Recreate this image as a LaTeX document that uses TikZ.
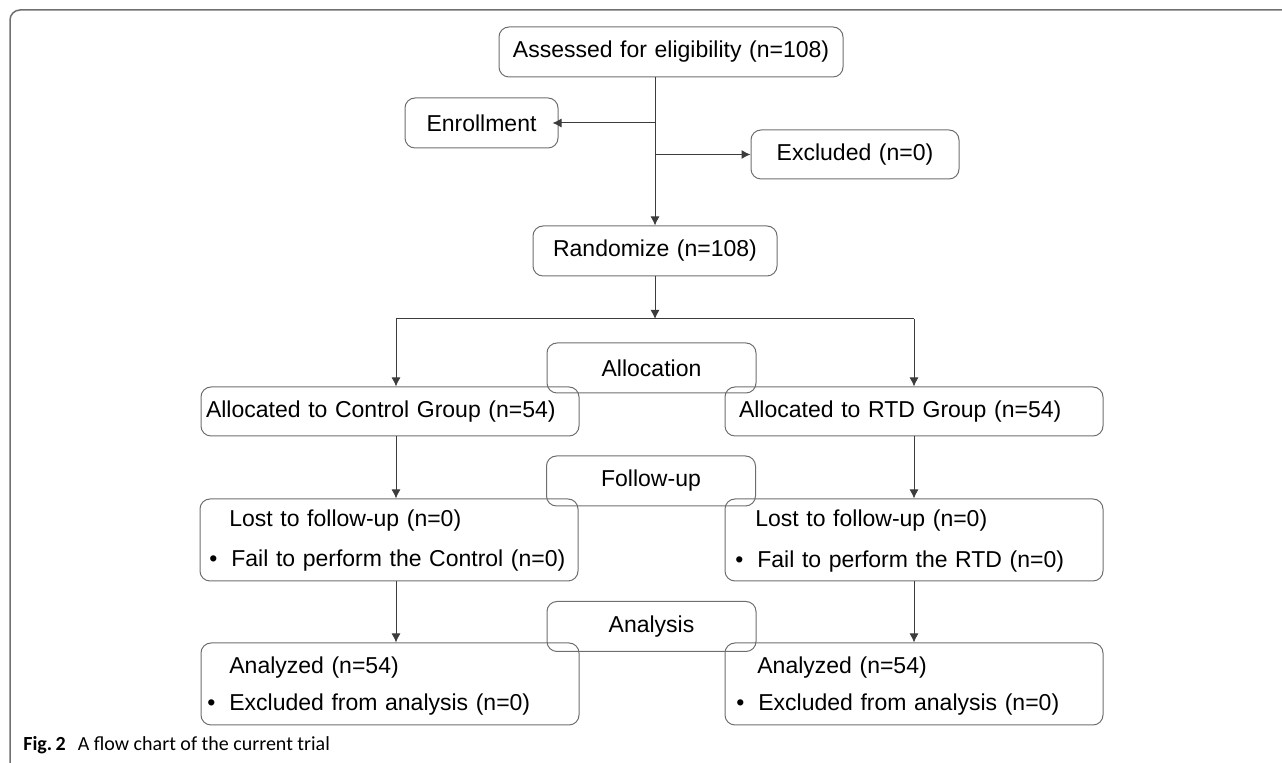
\documentclass[tikz,border=0pt]{standalone}
\usepackage{fontspec}
\setmainfont{Liberation Sans}
\newfontfamily\capfont{Carlito}
\usetikzlibrary{arrows.meta}

\definecolor{boxgray}{HTML}{6E6E6E}
\definecolor{linegray}{HTML}{3C3C3C}
\definecolor{framegray}{HTML}{707070}

\newcommand{\boxfont}{\fontsize{11.5}{14}\selectfont\spaceskip=0.33em\relax}

\begin{document}
\begin{tikzpicture}[x=0.5pt, y=-0.5pt,
    box/.style={draw=boxgray, rounded corners=5pt, line width=0.5pt, inner sep=0pt, font=\boxfont},
    stage/.style={box, minimum width=104.5pt, minimum height=25pt},
    group/.style={box, minimum width=189pt, minimum height=24.5pt, text width=189pt, align=left},
    detail/.style={box, minimum width=189pt, minimum height=41pt},
    txt/.style={inner sep=0pt, anchor=west, font=\boxfont},
    arr/.style={draw=linegray, line width=0.5pt, -{Latex[length=4.5pt,width=4.5pt]}}]

    \useasboundingbox (0,0) rectangle (1282,763);

    %frame
    \draw[framegray, line width=0.75pt, rounded corners=5pt] (10,780) -- (10,10) -- (1300,10);

    %boxes
    \node[box, minimum width=172pt, minimum height=25pt] (assess) at (671,52) {Assessed for eligibility (n=108)};
    \node[box, minimum width=76.5pt, minimum height=25pt] (enroll) at (481.5,123) {Enrollment};
    \node[box, minimum width=104pt, minimum height=24.5pt] (excl) at (855,154.5) {Excluded (n=0)};
    \node[box, minimum width=122pt, minimum height=25pt] (rand) at (655,251) {Randomize (n=108)};

    \node[stage] (alloc) at (651.5,368) {Allocation};
    \node[group] (ctrl) at (390,411.5) {\hspace*{2.5pt}Allocated to Control Group (n=54)};
    \node[group] (rtd) at (914,411.5) {\hspace*{7pt}Allocated to RTD Group (n=54)};

    \node[stage] (follow) at (651,481) {Follow-up};
    \node[detail] (lostc) at (389,540) {};
    \node[detail] (lostr) at (914,540) {};
    \node[txt] (lostc1) at (229,521) {Lost to follow-up (n=0)};
    \node[txt] (lostc2) at (209,561) {\makebox[11pt][l]{•}Fail to perform the Control (n=0)};
    \node[txt] (lostr1) at (755,521) {Lost to follow-up (n=0)};
    \node[txt] (lostr2) at (735,562) {\makebox[11pt][l]{•}Fail to perform the RTD (n=0)};

    \node[stage] (analysis) at (651.5,626.5) {Analysis};
    \node[detail] (anac) at (390,684) {};
    \node[detail] (anar) at (914,684) {};
    \node[txt] (anac1) at (229,668) {Analyzed (n=54)};
    \node[txt] (anac2) at (207,705) {\makebox[11pt][l]{•}Excluded from analysis (n=0)};
    \node[txt] (anar1) at (757,668) {Analyzed (n=54)};
    \node[txt] (anar2) at (736,705) {\makebox[11pt][l]{•}Excluded from analysis (n=0)};

    %connectors
    \coordinate (split) at (655,319);
    \coordinate (lft) at (396,319);
    \coordinate (rgt) at (914,319);
    \draw[arr] (assess.south -| rand.north) -- (rand.north);
    \draw[arr] (rand.north |- enroll.east) -- ([xshift=-3pt]enroll.east);
    \draw[arr] (rand.north |- excl.west) -- (excl.west);
    \draw[arr] (rand.south) -- (split);
    \draw[linegray, line width=0.5pt] (lft) -- (rgt);
    \draw[arr] (lft) -- (lft |- ctrl.north);
    \draw[arr] (rgt) -- (rgt |- rtd.north);
    \draw[arr] (lft |- ctrl.south) -- (lft |- lostc.north);
    \draw[arr] (rgt |- rtd.south) -- (rgt |- lostr.north);
    \draw[arr] (lft |- lostc.south) -- (lft |- anac.north);
    \draw[arr] (rgt |- lostr.south) -- (rgt |- anar.north);

    %caption
    \node[anchor=base west, inner sep=0pt, font=\capfont\fontsize{10}{12}\selectfont] (cap) at (23,751) {\textbf{Fig.\,2}\hspace{0.6em}A flow chart of the current trial};
\end{tikzpicture}
\end{document}
